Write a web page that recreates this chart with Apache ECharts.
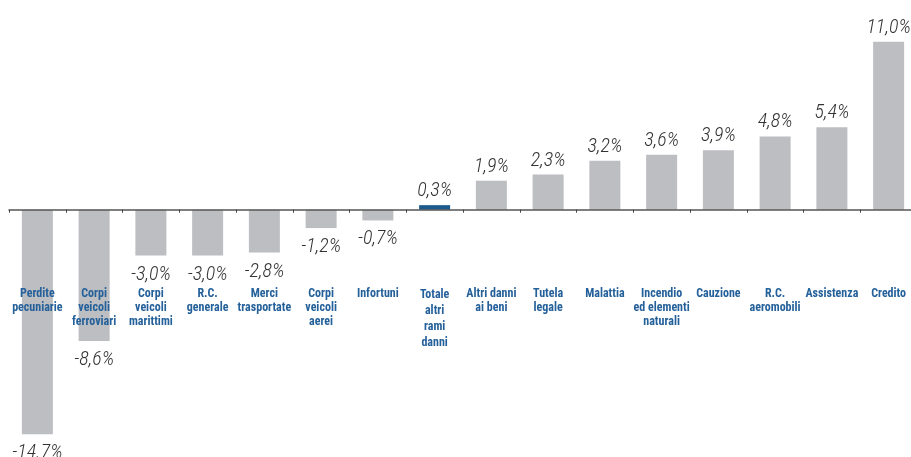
<!DOCTYPE html>
<html>
<head>
<meta charset="utf-8">
<script src="https://cdn.jsdelivr.net/npm/echarts@6/dist/echarts.min.js"></script>
<style>
html,body{margin:0;padding:0;background:#fff;}
#c{width:911px;height:457px;}
</style>
</head>
<body>
<div id="c"></div>
<script>
const categories = [
  "Perdite\npecuniarie",
  "Corpi\nveicoli\nferroviari",
  "Corpi\nveicoli\nmarittimi",
  "R.C.\ngenerale",
  "Merci\ntrasportate",
  "Corpi\nveicoli\naerei",
  "Infortuni",
  "Totale\naltri\nrami\ndanni",
  "Altri danni\nai beni",
  "Tutela\nlegale",
  "Malattia",
  "Incendio\ned elementi\nnaturali",
  "Cauzione",
  "R.C.\naeromobili",
  "Assistenza",
  "Credito"
];
const values = [-14.7, -8.6, -3.0, -3.0, -2.8, -1.2, -0.7, 0.3, 1.9, 2.3, 3.2, 3.6, 3.9, 4.8, 5.4, 11.0];
const valueLabels = ["-14.7%", "-8,6%", "-3,0%", "-3,0%", "-2,8%", "-1,2%", "-0,7%", "0,3%", "1,9%", "2,3%", "3,2%", "3,6%", "3,9%", "4,8%", "5,4%", "11,0%"];
const totalIndex = 7;

const FONT = '"Roboto Condensed", "DejaVu Sans Condensed", sans-serif';
const chart = echarts.init(document.getElementById('c'), null, {renderer: 'canvas'});

const catData = categories.map((c, i) => i === totalIndex ? {value: c, textStyle: {lineHeight: 16}} : c);

const barData = values.map((v, i) => {
  const neg = v < 0;
  return {
    value: v,
    itemStyle: {color: i === totalIndex ? '#1b5a8c' : '#bdbec2'},
    label: {
      show: true,
      position: neg ? 'bottom' : 'top',
      distance: neg ? 9 : 4,
      formatter: () => valueLabels[i]
    }
  };
});

chart.setOption({
  animation: false,
  backgroundColor: '#fff',
  grid: {left: 9, right: -6, top: 26.4, bottom: 18.1, containLabel: false, outerBoundsMode: 'none'},
  xAxis: {
    type: 'category',
    data: catData,
    z: 10,
    axisLine: {show: true, onZero: true, lineStyle: {color: '#555', width: 1.5}},
    axisTick: {show: true, length: 3, inside: false, lineStyle: {color: '#444'}},
    axisLabel: {
      interval: 0,
      margin: -152.4,
      color: '#24609a',
      fontFamily: FONT,
      fontWeight: 'bold',
      fontSize: 12,
      lineHeight: 14,
      align: 'center',
      verticalAlign: 'top'
    }
  },
  yAxis: {
    type: 'value',
    min: -15,
    max: 12,
    show: false,
    splitLine: {show: false}
  },
  series: [{
    type: 'bar',
    data: barData,
    barWidth: 31,
    z: 2,
    label: {
      color: '#333',
      fontFamily: FONT,
      fontStyle: 'italic',
      fontWeight: 300,
      fontSize: 20
    }
  }]
});
</script>
</body>
</html>
